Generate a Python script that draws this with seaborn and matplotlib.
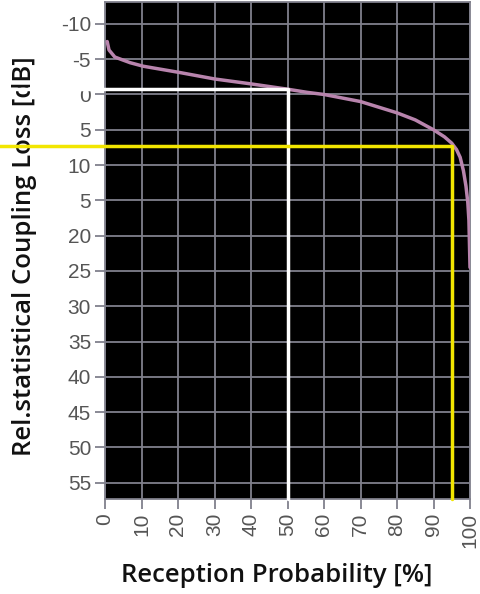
import numpy as np
import pandas as pd
import matplotlib
matplotlib.use("Agg")
import matplotlib.pyplot as plt
import seaborn as sns

# Data
probability = [0.6, 1.1, 2.7, 6.9, 10.5, 20.6, 30, 40, 50, 55.4, 60, 70, 80, 85, 90, 93, 95,
               96.3, 97.3, 98.2, 98.9, 99.4, 99.7, 100]
coupling_loss = [-7.5, -6.3, -5.3, -4.5, -4.0, -3.1, -2.2, -1.5, -0.75, -0.3, 0.0, 1.0, 2.6, 3.6, 5.0, 6.0, 6.9,
                 7.8, 8.9, 10.8, 13.0, 15.3, 17.8, 24.5]

x_ticks = [0, 10, 20, 30, 40, 50, 60, 70, 80, 90, 100]
y_ticks = [-10, -5, 0, 5, 10, 15, 20, 25, 30, 35, 40, 45, 50, 55]
y_tick_labels = ["-10", "-5", "0", "5", "10", "5", "20", "25", "30", "35", "40", "45", "50", "55"]

# marker lines: median (white) and 95% (yellow)
median_point = (50, -0.75)
p95_point = (95, 7.3)

df = pd.DataFrame({"prob": probability, "loss": coupling_loss})

sns.set_style("ticks")
plt.rcParams["font.family"] = ["Liberation Sans", "DejaVu Sans"]

fig = plt.figure(figsize=(4.8, 5.94), dpi=100)
ax = fig.add_axes([105/480, 1-499/594, 365/480, 497/594])
ax.set_facecolor("black")

sns.lineplot(data=df, x="prob", y="loss", ax=ax, color="#b884ad", linewidth=2.5, zorder=3)

ax.set_xlim(0, 100)
ax.set_ylim(57.3, -13.1)
ax.set_xticks(x_ticks)
ax.set_xticklabels([str(t) for t in x_ticks], rotation=90)
ax.set_yticks(y_ticks)
ax.set_yticklabels(y_tick_labels)
ax.grid(True, color="#80808c", linewidth=1.3)
ax.set_axisbelow(True)
ax.tick_params(axis="both", colors="#80808c", labelcolor="#555555", labelsize=15,
               length=7, width=1.3, pad=3)
for s in ax.spines.values():
    s.set_color("#80808c")
    s.set_linewidth(1.3)

# white line: from left edge of figure to median, then down
ax.plot([-30, median_point[0], median_point[0]], [median_point[1], median_point[1], 57.3],
        color="white", linewidth=2.5, clip_on=False, zorder=5)
# yellow line: 95 % reception
ax.plot([-30, p95_point[0], p95_point[0]], [p95_point[1], p95_point[1], 57.3],
        color="#f2e600", linewidth=2.5, clip_on=False, zorder=5)

ax.set_xlabel("Reception Probability [%]", fontsize=18.5, fontweight="semibold", family="Open Sans", color="#111111")
ax.set_ylabel("Rel.statistical Coupling Loss [dB]", fontsize=18.5, fontweight="semibold", family="Open Sans", color="#111111")
ax.xaxis.label.set_verticalalignment("center")
ax.yaxis.label.set_verticalalignment("center")
ax.xaxis.set_label_coords((276.5-105)/365, -(576-499)/497)
ax.yaxis.set_label_coords((25-105)/365, (499-256)/497)

fig.savefig("out.png", dpi=100)
